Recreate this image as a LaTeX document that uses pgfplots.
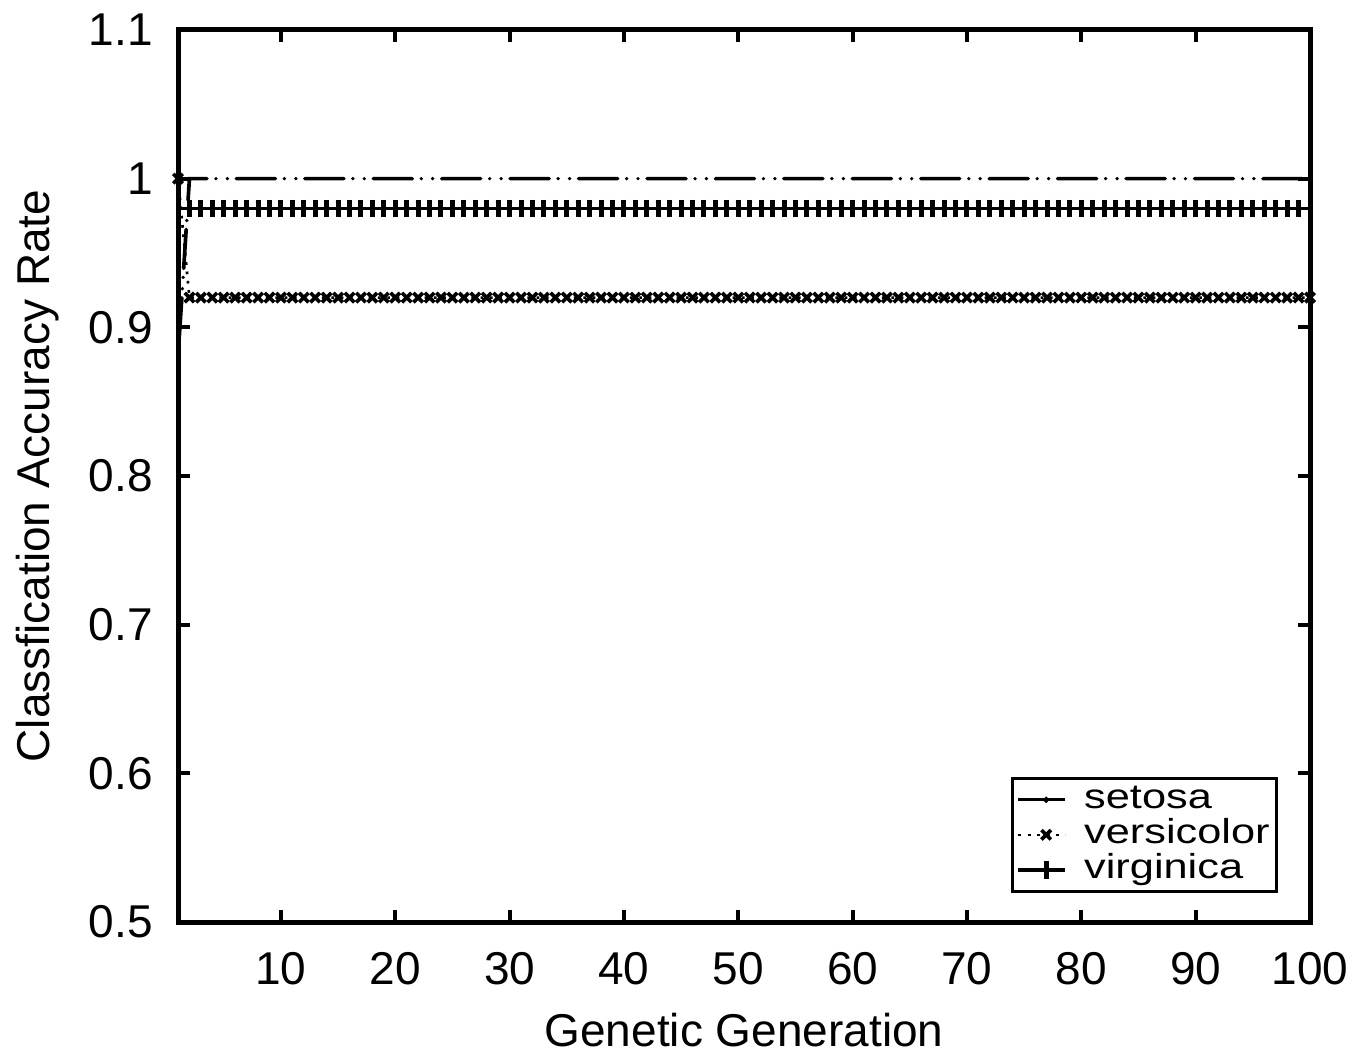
\documentclass[border=0pt]{standalone}
\usepackage{fontspec}
\setmainfont{Liberation Sans}
\usepackage{pgfplots}
\pgfplotsset{compat=1.18}
\usepackage{pgfplotstable}
\usetikzlibrary{calc}

\pgfplotstableread{
x s v g
1 0.88 1.00 0.98
2 1.00 0.92 0.98
3 1.00 0.92 0.98
4 1.00 0.92 0.98
5 1.00 0.92 0.98
6 1.00 0.92 0.98
7 1.00 0.92 0.98
8 1.00 0.92 0.98
9 1.00 0.92 0.98
10 1.00 0.92 0.98
11 1.00 0.92 0.98
12 1.00 0.92 0.98
13 1.00 0.92 0.98
14 1.00 0.92 0.98
15 1.00 0.92 0.98
16 1.00 0.92 0.98
17 1.00 0.92 0.98
18 1.00 0.92 0.98
19 1.00 0.92 0.98
20 1.00 0.92 0.98
21 1.00 0.92 0.98
22 1.00 0.92 0.98
23 1.00 0.92 0.98
24 1.00 0.92 0.98
25 1.00 0.92 0.98
26 1.00 0.92 0.98
27 1.00 0.92 0.98
28 1.00 0.92 0.98
29 1.00 0.92 0.98
30 1.00 0.92 0.98
31 1.00 0.92 0.98
32 1.00 0.92 0.98
33 1.00 0.92 0.98
34 1.00 0.92 0.98
35 1.00 0.92 0.98
36 1.00 0.92 0.98
37 1.00 0.92 0.98
38 1.00 0.92 0.98
39 1.00 0.92 0.98
40 1.00 0.92 0.98
41 1.00 0.92 0.98
42 1.00 0.92 0.98
43 1.00 0.92 0.98
44 1.00 0.92 0.98
45 1.00 0.92 0.98
46 1.00 0.92 0.98
47 1.00 0.92 0.98
48 1.00 0.92 0.98
49 1.00 0.92 0.98
50 1.00 0.92 0.98
51 1.00 0.92 0.98
52 1.00 0.92 0.98
53 1.00 0.92 0.98
54 1.00 0.92 0.98
55 1.00 0.92 0.98
56 1.00 0.92 0.98
57 1.00 0.92 0.98
58 1.00 0.92 0.98
59 1.00 0.92 0.98
60 1.00 0.92 0.98
61 1.00 0.92 0.98
62 1.00 0.92 0.98
63 1.00 0.92 0.98
64 1.00 0.92 0.98
65 1.00 0.92 0.98
66 1.00 0.92 0.98
67 1.00 0.92 0.98
68 1.00 0.92 0.98
69 1.00 0.92 0.98
70 1.00 0.92 0.98
71 1.00 0.92 0.98
72 1.00 0.92 0.98
73 1.00 0.92 0.98
74 1.00 0.92 0.98
75 1.00 0.92 0.98
76 1.00 0.92 0.98
77 1.00 0.92 0.98
78 1.00 0.92 0.98
79 1.00 0.92 0.98
80 1.00 0.92 0.98
81 1.00 0.92 0.98
82 1.00 0.92 0.98
83 1.00 0.92 0.98
84 1.00 0.92 0.98
85 1.00 0.92 0.98
86 1.00 0.92 0.98
87 1.00 0.92 0.98
88 1.00 0.92 0.98
89 1.00 0.92 0.98
90 1.00 0.92 0.98
91 1.00 0.92 0.98
92 1.00 0.92 0.98
93 1.00 0.92 0.98
94 1.00 0.92 0.98
95 1.00 0.92 0.98
96 1.00 0.92 0.98
97 1.00 0.92 0.98
98 1.00 0.92 0.98
99 1.00 0.92 0.98
100 1.00 0.92 0.98
}\datatable

\begin{document}
\begin{tikzpicture}
\begin{axis}[
  name=ax,
  scale only axis,
  width=339.6pt, height=267.6pt,
  xmin=1, xmax=100, ymin=0.5, ymax=1.1,
  xtick={10,20,30,40,50,60,70,80,90,100},
  ytick={0.5,0.6,0.7,0.8,0.9,1,1.1},
  tick align=inside,
  major tick length=3.5pt,
  tick style={line width=1.2pt, black},
  axis line style={line width=1.5pt},
  every axis/.append style={line width=1.5pt},
  /pgf/number format/assume math mode=true,
  tick label style={font=\fontsize{13.8}{16}\selectfont},
  label style={font=\fontsize{13.8}{16}\selectfont},
  xticklabel style={yshift=-5pt},
  yticklabel style={xshift=-3.5pt},
  xlabel={Genetic Generation},
  xlabel style={yshift=-1pt},
  ylabel={Classfication Accuracy Rate},
  ylabel style={yshift=1.5pt},
  legend style={at={(0.9717,0.0325)}, anchor=south east, draw=black,
    line width=1pt, inner sep=1.2pt, row sep=0pt,
    font=\fontsize{13}{14}\selectfont,
    nodes={inner sep=0.8pt, text height=7pt, text depth=1.9pt},
    /tikz/every odd column/.append style={column sep=4.5pt}},
  legend cell align=left,
  legend image code/.code={\path (-3pt,0pt) -- (11pt,0pt);
    \draw[mark repeat=2,mark phase=2] plot coordinates {(0pt,0pt) (5.4pt,0pt) (10.8pt,0pt)};},
]
\addplot[black, line width=1.1pt, line cap=round,
  dash pattern=on 0.01pt off 3.41pt on 0.01pt off 2.7pt on 11.7pt off 2.7pt,
  forget plot] table[x=x,y=s]{\datatable};
\addlegendimage{black, solid, line width=0.9pt, mark=*, mark size=0.4pt}
\addlegendentry{\scalebox{1}[0.8]{setosa}}
\addplot[black, line width=0.8pt, dotted, mark=x, mark size=2pt,
  mark options={solid, line width=1.1pt}] table[x=x,y=v]{\datatable};
\addlegendentry{\scalebox{1}[0.8]{versicolor}}
\addplot[black, line width=1pt, mark=|, mark size=2.6pt,
  mark options={line width=1.5pt}] table[x=x,y=g]{\datatable};
\addlegendentry{\scalebox{1}[0.8]{virginica}}
\end{axis}
\pgfresetboundingbox
\path[use as bounding box] ($(ax.south west)+(-53.4pt,-40.5pt)$) rectangle ($(ax.north east)+(14.1pt,9pt)$);
\end{tikzpicture}
\end{document}
